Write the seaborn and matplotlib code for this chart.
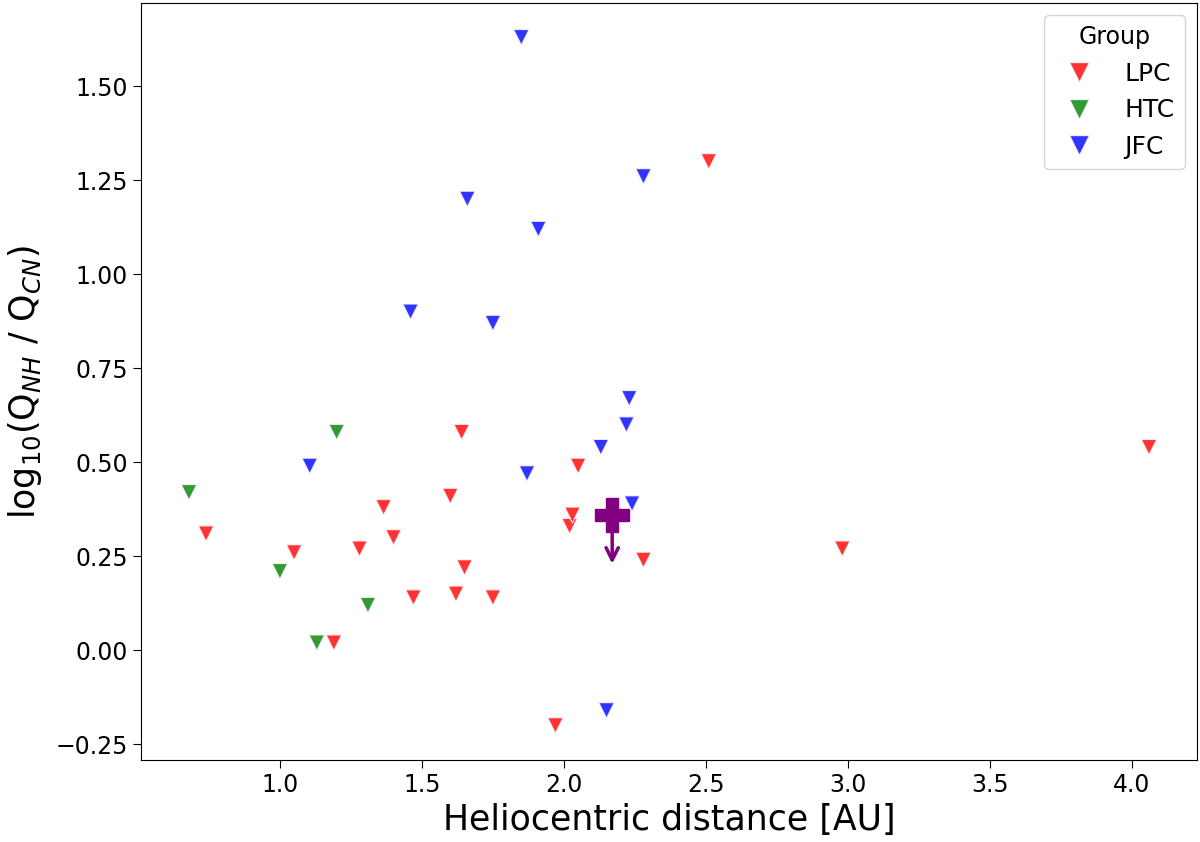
import pandas as pd
import seaborn as sns
import matplotlib.pyplot as plt

# upper limits
lpc_r = [0.74, 1.05, 1.19, 1.28, 1.40, 1.365, 1.47, 1.60, 1.64, 1.65, 1.62, 1.75,
         1.97, 2.02, 2.03, 2.05, 2.28, 2.51, 2.98, 4.06]
lpc_q = [0.31, 0.26, 0.02, 0.27, 0.30, 0.38, 0.14, 0.41, 0.58, 0.22, 0.15, 0.14,
         -0.20, 0.33, 0.36, 0.49, 0.24, 1.30, 0.27, 0.54]

htc_r = [0.68, 1.00, 1.13, 1.20, 1.31]
htc_q = [0.42, 0.21, 0.02, 0.58, 0.12]

jfc_r = [1.105, 1.46, 1.66, 1.75, 1.85, 1.87, 1.91, 2.13, 2.15, 2.22, 2.23, 2.24, 2.28]
jfc_q = [0.49, 0.90, 1.20, 0.87, 1.63, 0.47, 1.12, 0.54, -0.16, 0.60, 0.67, 0.39, 1.26]

groups = ['LPC', 'HTC', 'JFC']
colors = ['red', 'green', 'blue']

# our comet
this_r = 2.17
this_q = 0.36
arrow_end = 0.23

df = pd.DataFrame({
    'r': lpc_r + htc_r + jfc_r,
    'q': lpc_q + htc_q + jfc_q,
    'Group': ['LPC'] * len(lpc_r) + ['HTC'] * len(htc_r) + ['JFC'] * len(jfc_r),
})

fig, ax = plt.subplots(figsize=(12, 8.42), dpi=100)
sns.scatterplot(data=df, x='r', y='q', hue='Group', hue_order=groups,
                palette=dict(zip(groups, colors)), marker='v', s=130,
                alpha=0.8, linewidth=1, ax=ax)

ax.plot(this_r, this_q, marker='P', color='purple', markersize=24, linestyle='none')
ax.annotate('', xy=(this_r, arrow_end), xytext=(this_r, this_q),
            arrowprops=dict(arrowstyle='->', color='purple', lw=2.5,
                            mutation_scale=22, shrinkA=0, shrinkB=0))

ax.set_xlabel('Heliocentric distance [AU]', fontsize=25)
ax.set_ylabel(r'log$_{10}$(Q$_{NH}$ / Q$_{CN}$)', fontsize=25, labelpad=8)
ax.tick_params(labelsize=17, length=6)

leg = ax.legend(title='Group', loc='upper right', fontsize=18, title_fontsize=17,
                markerscale=1.25)

fig.subplots_adjust(left=0.1175, right=0.9975, top=0.9965, bottom=0.0975)
fig.savefig('out.png')
